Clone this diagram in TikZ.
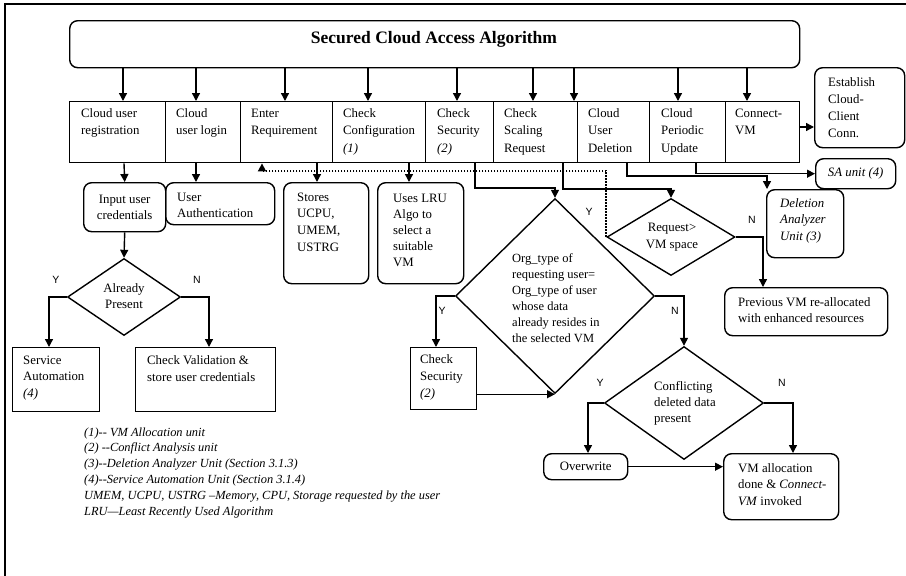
\documentclass[tikz,border=0pt]{standalone}
\usepackage{fontspec}
\setmainfont{Liberation Serif}
\newfontfamily\lsans{Liberation Sans}
\usetikzlibrary{arrows.meta,shapes.geometric}
\newcommand\mylines[1]{\begin{tabular}[t]{@{}l@{}}#1\end{tabular}}
\begin{document}
\begin{tikzpicture}[x=1pt,y=-1pt,
  ln/.style={line width=1.4pt},
  sq/.style={draw,ln,inner sep=0pt,anchor=north west},
  rd/.style={sq,rounded corners=8pt},
  dia/.style={draw,ln,diamond,inner sep=0pt},
  arr/.style={ln,-{Triangle[length=8pt,width=8pt]}},
  dotarr/.style={line width=1.7pt,dash pattern=on 1.6pt off 1.4pt,-{Triangle[length=8pt,width=8pt]}},
  txt/.style={inner sep=0pt,anchor=base west,font=\fontsize{12.8}{17.5}\selectfont},
  ctxt/.style={align=center,font=\fontsize{12.8}{16.5}\selectfont},
  yn/.style={inner sep=0pt,font=\lsans\fontsize{10.5}{12}\selectfont}]
\useasboundingbox (0,0) rectangle (906,576);
% frame
\draw[line width=1.6pt] (5,576) -- (5,4) -- (906,4);
% title
\node[rd] (T) at (69,20) [minimum width=730pt,minimum height=47pt] {};
\node[font=\fontsize{17.5}{20}\selectfont\bfseries,inner sep=0pt] (tt) at (434,39) {Secured Cloud Access Algorithm};
% top row
\node[sq,minimum width=96pt,minimum height=61pt] (b1) at (69,101) {};
\node[sq,minimum width=75pt,minimum height=61pt] (b2) at (165,101) {};
\node[sq,minimum width=92pt,minimum height=61pt] (b3) at (240,101) {};
\node[sq,minimum width=93pt,minimum height=61pt] (b4) at (332,101) {};
\node[sq,minimum width=68pt,minimum height=61pt] (b5) at (425,101) {};
\node[sq,minimum width=84pt,minimum height=61pt] (b6) at (493,101) {};
\node[sq,minimum width=72pt,minimum height=61pt] (b7) at (577,101) {};
\node[sq,minimum width=76pt,minimum height=61pt] (b8) at (649,101) {};
\node[sq,minimum width=74pt,minimum height=61pt] (b9) at (725,101) {};
\node[txt] (t1) at (81,117) {\mylines{Cloud user\\registration}};
\node[txt] (t2) at (176,117) {\mylines{Cloud\\user login}};
\node[txt] (t3) at (251,117) {\mylines{Enter\\Requirement}};
\node[txt] (t4) at (343,117) {\mylines{Check\\Configuration\\\textit{(1)}}};
\node[txt] (t5) at (437,117) {\mylines{Check\\Security\\\textit{(2)}}};
\node[txt] (t6) at (504,117) {\mylines{Check\\Scaling\\Request}};
\node[txt] (t7) at (588,117) {\mylines{Cloud\\User\\Deletion}};
\node[txt] (t8) at (661,117) {\mylines{Cloud\\Periodic\\Update}};
\node[txt] (t9) at (735,117) {\mylines{Connect-\\VM}};
% title arrows
\foreach \x/\b in {123/b1,196/b2,285/b3,368/b4,457/b5,533/b6,574/b6,678/b8,747/b9}
  \draw[arr] (\x,0 |- T.south) -- (\x,0 |- \b.north);
% right side
\node[rd,minimum width=90pt,minimum height=80pt] (E) at (814,67) {};
\node[txt,font=\fontsize{12.8}{17}\selectfont] (te) at (828,86) {\mylines{Establish\\Cloud-\\Client\\Conn.}};
\draw[arr] (b9.east |- 0,127) -- (E.west |- 0,127);
\node[rd,minimum width=80pt,minimum height=30pt,font=\fontsize{12.8}{15}\selectfont\itshape] (S) at (815,158) {SA unit (4)};
\draw[arr] (696,0 |- b8.south) |- (S.west);
\node[rd,minimum width=77pt,minimum height=68pt] (D) at (766,189) {};
\node[txt,font=\fontsize{12.8}{16.5}\selectfont\itshape] (td) at (780,207) {\mylines{Deletion\\Analyzer\\Unit (3)}};
\draw[arr] (627,0 |- b7.south) -- (627,176) -| (767,0 |- D.north);
% request diamond
\node[dia,minimum width=128pt,minimum height=77pt] (R) at (671,237) {};
\node[ctxt,inner sep=0pt] (tr) at (672,237) {Request>\\VM space};
\draw[arr] (563,0 |- b6.south) -- (563,189) -| (R.north);
\node[rd,minimum width=163pt,minimum height=48pt] (P) at (724,287) {};
\node[txt,font=\fontsize{12.8}{16.5}\selectfont] (tp) at (738,306) {\mylines{Previous VM re-allocated\\with enhanced resources}};
\draw[arr] (R.east) -| (763,0 |- P.north);
\node[yn] (n1) at (752,220) {N};
% dotted feedback
\draw[dotarr] (R.west) |- (262,171) -- (262,0 |- b3.south);
% org diamond
\node[dia,minimum width=199pt,minimum height=195pt] (O) at (555,296) {};
\node[txt,font=\fontsize{12.5}{16.1}\selectfont] (to) at (512,262) {\mylines{Org\_type of\\requesting user=\\Org\_type of user\\whose data\\already resides in\\the selected VM}};
\draw[arr] (475,0 |- b5.south) -- (475,188) -| (O.north);
\node[yn] (y0) at (589,212) {Y};
\node[sq,minimum width=66pt,minimum height=62pt] (CS) at (410,347) {};
\node[txt,font=\fontsize{12.8}{17}\selectfont] (tcs) at (420,363) {\mylines{Check\\Security\\\textit{(2)}}};
\draw[arr] (O.west) -| (436,0 |- CS.north);
\draw[arr] (CS.east |- O.south) -- (O.south);
\node[yn] (y1) at (442,311) {Y};
\node[yn] (n2) at (675,311) {N};
% conflicting diamond
\node[dia,minimum width=159pt,minimum height=113pt] (C) at (684,403) {};
\node[txt,font=\fontsize{12.8}{16.2}\selectfont] (tc) at (654,390) {\mylines{Conflicting\\deleted data\\present}};
\draw[arr] (O.east) -| (C.north);
\node[rd,minimum width=84pt,minimum height=26pt,font=\fontsize{12.8}{15}\selectfont] (OW) at (543,453) {Overwrite};
\node[rd,minimum width=115pt,minimum height=66pt] (V) at (723,453) {};
\node[txt,font=\fontsize{12.8}{16.5}\selectfont] (tv) at (738,472) {\mylines{VM allocation\\done \& \textit{Connect-}\\\textit{VM} invoked}};
\draw[arr] (C.west) -| (588,0 |- OW.north);
\draw[arr] (C.east) -| (793,0 |- V.north);
\draw[arr] (OW.east) -- (V.west |- OW.east);
\node[yn] (y2) at (600,383) {Y};
\node[yn] (n3) at (782,383) {N};
% left part
\node[rd,minimum width=82pt,minimum height=49pt,ctxt] (I) at (83,182) {Input user\\credentials};
\node[rd,minimum width=109pt,minimum height=42pt] (UA) at (165,182) {};
\node[txt,font=\fontsize{12.8}{16.5}\selectfont] (tua) at (177,201) {\mylines{User\\Authentication}};
\draw[arr] (124,0 |- b1.south) -- (I.north);
\draw[arr] (196,0 |- b2.south) -- (196,0 |- UA.north);
\node[rd,minimum width=85pt,minimum height=101pt] (St) at (283,182) {};
\node[txt,font=\fontsize{12.8}{16.8}\selectfont] (tst) at (297,201) {\mylines{Stores\\UCPU,\\UMEM,\\USTRG}};
\draw[arr] (317,0 |- b3.south) -- (317,0 |- St.north);
\node[rd,minimum width=86pt,minimum height=101pt] (L) at (377,182) {};
\node[txt,font=\fontsize{12.8}{16}\selectfont] (tl) at (393,202) {\mylines{Uses LRU\\Algo to\\select a\\suitable\\VM}};
\draw[arr] (409,0 |- b4.south) -- (409,0 |- L.north);
\node[dia,minimum width=113pt,minimum height=77pt] (AP) at (124,297) {};
\node[ctxt,inner sep=0pt] (tap) at (124,296) {Already\\Present};
\draw[arr] (I.south) -- (AP.north);
\node[sq,minimum width=87pt,minimum height=64pt] (SA) at (12,347) {};
\node[txt,font=\fontsize{12.8}{16.8}\selectfont] (tsa) at (23,364) {\mylines{Service\\Automation\\\textit{(4)}}};
\node[sq,minimum width=140pt,minimum height=64pt] (CV) at (135,347) {};
\node[txt,font=\fontsize{12.8}{17.5}\selectfont] (tcv) at (147,364) {\mylines{Check Validation \&\\store user credentials}};
\draw[arr] (AP.west) -| (49,0 |- SA.north);
\draw[arr] (AP.east) -| (209,0 |- CV.north);
\node[yn] (y3) at (56,280) {Y};
\node[yn] (n4) at (197,280) {N};
% legend
\node[txt,font=\fontsize{12.4}{15.8}\selectfont\itshape] (lg) at (84,436) {\mylines{(1)-{}- VM Allocation unit\\(2) -{}-Conflict Analysis unit\\(3)-{}-Deletion Analyzer Unit (Section 3.1.3)\\(4)-{}-Service Automation Unit (Section 3.1.4)\\UMEM, UCPU, USTRG –Memory, CPU, Storage requested by the user\\LRU—Least Recently Used Algorithm}};
\end{tikzpicture}
\end{document}
